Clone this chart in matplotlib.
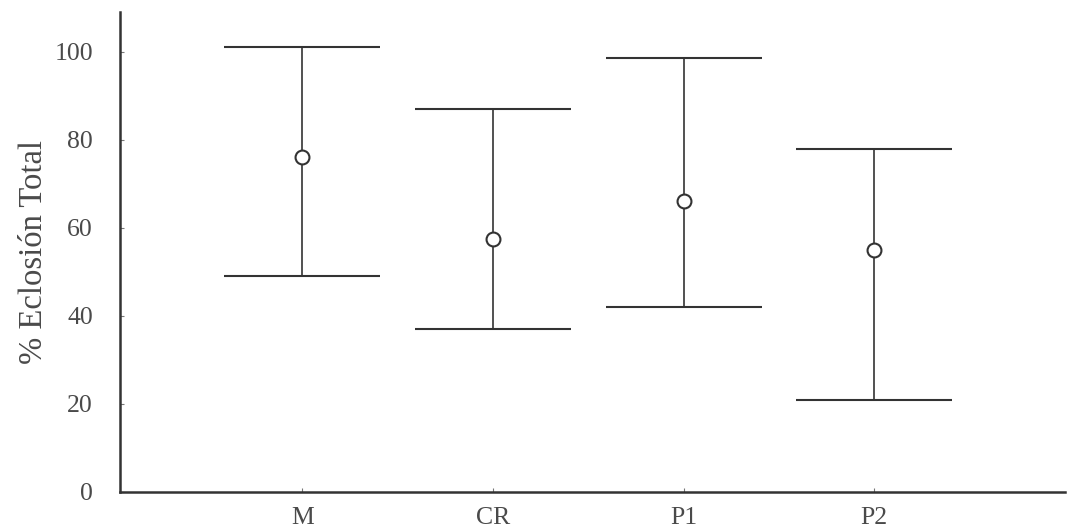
import numpy as np
import matplotlib.pyplot as plt

# datos
grupos = ["M", "CR", "P1", "P2"]
media = [76, 57.5, 66, 55]
limite_sup = [101, 87, 98.5, 78]
limite_inf = [49, 37, 42, 21]

plt.rcParams["font.family"] = ["Liberation Serif", "DejaVu Serif"]

x = np.arange(1, len(grupos) + 1)
err = [np.array(media) - np.array(limite_inf), np.array(limite_sup) - np.array(media)]

fig = plt.figure(figsize=(10.67, 5.29), dpi=100)
ax = fig.add_axes([0.112, 0.07, 0.886, 0.907])

ax.errorbar(x, media, yerr=err, fmt="o", color="#333333", ecolor="#333333",
            elinewidth=1.2, capsize=56, capthick=1.4,
            markersize=10, markerfacecolor="white", markeredgecolor="#333333",
            markeredgewidth=1.5)

ax.set_xlim(0.04, 5.0)
ax.set_ylim(0, 109)
ax.set_xticks(x)
ax.set_xticklabels(grupos)
ax.set_yticks([0, 20, 40, 60, 80, 100])
ax.set_ylabel("% Eclosión Total", fontsize=23.5, color="#4a4a4a", labelpad=4)
ax.tick_params(axis="both", labelsize=18.5, labelcolor="#4a4a4a", direction="in",
               length=3, color="#777777")
ax.tick_params(axis="x", pad=11)
ax.tick_params(axis="y", pad=19)

for s in ["top", "right"]:
    ax.spines[s].set_visible(False)
for s in ["left", "bottom"]:
    ax.spines[s].set_linewidth(1.8)
    ax.spines[s].set_color("#333333")

fig.savefig("out.png", dpi=100)
